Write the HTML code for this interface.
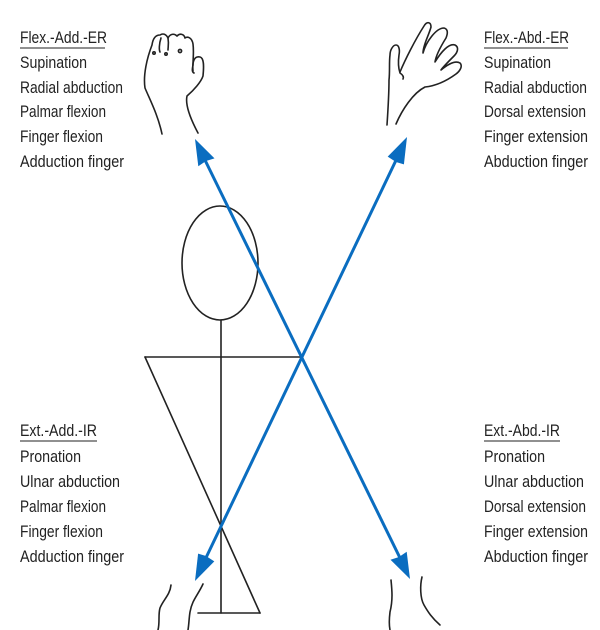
<!DOCTYPE html>
<html><head><meta charset="utf-8"><style>
html,body{margin:0;padding:0;background:#fff}
svg{display:block}
text{font-family:"Liberation Sans Narrow","Liberation Sans",sans-serif;font-size:17px;fill:#222}
</style></head><body>
<svg width="600" height="630" viewBox="0 0 600 630" xmlns="http://www.w3.org/2000/svg">
<g fill="none" stroke="#222" stroke-width="1.6" stroke-linecap="round" stroke-linejoin="round">
<ellipse cx="220" cy="263" rx="38" ry="57"/>
<line x1="221" y1="320" x2="221" y2="613"/>
<line x1="145" y1="357" x2="301" y2="357"/>
<line x1="145" y1="357" x2="260" y2="613"/>
<line x1="198" y1="613" x2="260" y2="613"/>
<path d="M162 134 C158 115 150 100 145 88 C143 75 147 58 152 45 C153 38 156 35 160 35 C163 33 166 34 168 38 C170 34 174 33 177 36 C180 33 184 34 185 38 C188 36 192 38 193 44 C194 52 193 58 193 65 C192 70 192 72 194 73"/>
<path d="M193 71 C192 60 195 56 200 57 C204 58 204 66 203 76 C201 82 194 90 187 96 C185 105 190 118 198 133"/>
<path d="M161 38 C159 44 159 50 160 52 M168 38 C169 44 168 47 168 50"/>
<circle cx="154" cy="53" r="1.2"/><circle cx="166" cy="54" r="1.2"/><circle cx="180" cy="51" r="1.6"/>
<path d="M387 125 C388 110 389 95 389 80 C390 72 389 62 390 55 C390 50 393 45 396 45 C399 45 400 50 399 55 C398 62 398 67 400 73 C403 75 404 77 403 79"/>
<path d="M400 72 C405 60 415 40 424 26 C427 21 431 22 431 27 C429 35 423 45 423 53 C426 42 436 28 444 28 C448 29 448 33 446 38 C441 46 436 55 435 62 C441 52 449 43 455 45 C459 47 458 52 454 56 C448 62 443 67 441 70 C447 65 455 60 460 63 C463 66 460 71 456 74 C445 82 435 86 425 87 C413 93 402 110 396 124"/>
<path d="M171 585 C170 595 163 600 160 608 C158 615 160 622 158 630"/>
<path d="M203 584 C198 595 192 600 190 612 C189 618 189 624 188 630"/>
<path d="M391 580 C392 590 393 600 390 612 C389 620 389 625 390 630"/>
<path d="M422 577 C420 585 420 598 424 605 C428 612 432 618 440 625"/>
</g>
<g stroke="#0a6dc0" stroke-width="3" fill="#0a6dc0">
<line x1="203" y1="156" x2="402" y2="562"/>
<line x1="399" y1="154" x2="203" y2="564"/>
<polygon stroke="none" points="195,139 214.5,158.4 206,161 198.3,166.3"/>
<polygon stroke="none" points="410,579 390.5,559.7 399,557 406.7,551.8"/>
<polygon stroke="none" points="195,581 198.1,553.6 206,556 214.3,561.4"/>
<polygon stroke="none" points="407,137 403.9,164.4 396,162 387.7,156.6"/>
</g>
<g>
<text x="20" y="43" textLength="87" lengthAdjust="spacingAndGlyphs">Flex.-Add.-ER</text>
<line x1="20" y1="48" x2="105" y2="48" stroke="#222" stroke-width="1"/>
<text x="20" y="68" textLength="67" lengthAdjust="spacingAndGlyphs">Supination</text>
<text x="20" y="93" textLength="103" lengthAdjust="spacingAndGlyphs">Radial abduction</text>
<text x="20" y="117" textLength="86" lengthAdjust="spacingAndGlyphs">Palmar flexion</text>
<text x="20" y="142" textLength="83" lengthAdjust="spacingAndGlyphs">Finger flexion</text>
<text x="20" y="167" textLength="104" lengthAdjust="spacingAndGlyphs">Adduction finger</text>

<text x="484" y="43" textLength="85" lengthAdjust="spacingAndGlyphs">Flex.-Abd.-ER</text>
<line x1="484" y1="48" x2="568" y2="48" stroke="#222" stroke-width="1"/>
<text x="484" y="68" textLength="67" lengthAdjust="spacingAndGlyphs">Supination</text>
<text x="484" y="93" textLength="103" lengthAdjust="spacingAndGlyphs">Radial abduction</text>
<text x="484" y="117" textLength="102" lengthAdjust="spacingAndGlyphs">Dorsal extension</text>
<text x="484" y="142" textLength="104" lengthAdjust="spacingAndGlyphs">Finger extension</text>
<text x="484" y="167" textLength="104" lengthAdjust="spacingAndGlyphs">Abduction finger</text>

<text x="20" y="436" textLength="77" lengthAdjust="spacingAndGlyphs">Ext.-Add.-IR</text>
<line x1="20" y1="441" x2="97" y2="441" stroke="#222" stroke-width="1"/>
<text x="20" y="462" textLength="61" lengthAdjust="spacingAndGlyphs">Pronation</text>
<text x="20" y="487" textLength="100" lengthAdjust="spacingAndGlyphs">Ulnar abduction</text>
<text x="20" y="512" textLength="86" lengthAdjust="spacingAndGlyphs">Palmar flexion</text>
<text x="20" y="537" textLength="83" lengthAdjust="spacingAndGlyphs">Finger flexion</text>
<text x="20" y="562" textLength="104" lengthAdjust="spacingAndGlyphs">Adduction finger</text>

<text x="484" y="436" textLength="76" lengthAdjust="spacingAndGlyphs">Ext.-Abd.-IR</text>
<line x1="484" y1="441" x2="560" y2="441" stroke="#222" stroke-width="1"/>
<text x="484" y="462" textLength="61" lengthAdjust="spacingAndGlyphs">Pronation</text>
<text x="484" y="487" textLength="100" lengthAdjust="spacingAndGlyphs">Ulnar abduction</text>
<text x="484" y="512" textLength="102" lengthAdjust="spacingAndGlyphs">Dorsal extension</text>
<text x="484" y="537" textLength="104" lengthAdjust="spacingAndGlyphs">Finger extension</text>
<text x="484" y="562" textLength="104" lengthAdjust="spacingAndGlyphs">Abduction finger</text>
</g>
</svg>
</body></html>
